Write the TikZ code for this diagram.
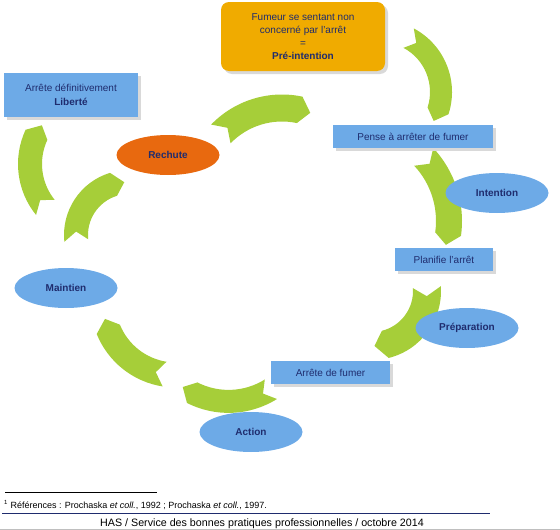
\documentclass[tikz,border=0pt]{standalone}
\usepackage{fontspec}
\setmainfont{Liberation Sans}
\usetikzlibrary{shapes.geometric,shadows}

\definecolor{arrowgreen}{RGB}{166,206,57}
\definecolor{stageblue}{RGB}{109,170,231}
\definecolor{boxorange}{RGB}{240,171,0}
\definecolor{relapse}{RGB}{232,105,15}
\definecolor{textnavy}{RGB}{31,44,110}

\newcommand{\cyclearrow}[6]{%
        \pgfmathsetmacro{\Ro}{#3+#4/2}
        \pgfmathsetmacro{\Ri}{#3-#4/2}
        \pgfmathsetmacro{\Tn}{#5+9/#3*57.3}
        \pgfmathsetmacro{\Hp}{#6+11/#3*57.3}
        \fill[arrowgreen,shift={(#1,#2)}] (#5:\Ro) arc[start angle=#5,end angle=#6,radius=\Ro]
                -- (\Hp:#3) -- (#6:\Ri) arc[start angle=#6,end angle=#5,radius=\Ri]
                -- (\Tn:#3) -- cycle;
}

\tikzset{
        stagebox/.style={rectangle, fill=stageblue, text=textnavy, inner sep=0pt,
                font=\fontsize{10}{12}\selectfont,
                drop shadow={shadow xshift=3pt,shadow yshift=-3pt,fill=black!15,opacity=1}},
        stage/.style={ellipse, fill=stageblue, text=textnavy, inner sep=0pt,
                minimum width=103pt, minimum height=40pt,
                font=\bfseries\fontsize{10}{12}\selectfont},
        prebox/.style={rectangle, rounded corners=8pt, fill=boxorange, text=textnavy,
                align=center, inner sep=0pt, minimum width=164pt, minimum height=69pt,
                font=\fontsize{10}{13}\selectfont,
                drop shadow={shadow xshift=3pt,shadow yshift=-3pt,fill=black!15,opacity=1}}
}

\begin{document}
\begin{tikzpicture}[x=1pt,y=-1pt]
        \useasboundingbox (0,0) rectangle (560,530);

        \cyclearrow{380}{92}{61}{22}{-62}{18};
        \cyclearrow{355}{221}{94}{26}{-43}{8};
        \cyclearrow{372}{291}{55}{28}{-4}{76};
        \cyclearrow{228.5}{321.4}{80}{23}{58}{117};
        \cyclearrow{176}{302}{73}{25}{99}{158};
        \cyclearrow{129}{235}{53}{24}{174}{253};
        \cyclearrow{282}{193}{85}{27}{224}{282};
        \cyclearrow{99}{164}{69}{24}{141}{205};

        \node[prebox] (pre) at (303,36.5) {Fumeur se sentant non\\concerné par l'arrêt\\=\\\textbf{Pré-intention}};
        \node[stagebox, minimum width=134pt, minimum height=44pt, align=center] (free) at (71,95) {Arrête définitivement\\[2pt]\textbf{Liberté}};
        \node[stagebox, minimum width=160pt, minimum height=23pt] (think) at (413,136.5) {Pense à arrêter de fumer};
        \node[stagebox, minimum width=98pt, minimum height=23pt] (plan) at (444,259.5) {Planifie l'arrêt};
        \node[stagebox, minimum width=119pt, minimum height=23pt] (quit) at (330.5,372.5) {Arrête de fumer};

        \node[stage, fill=relapse] (relapse) at (168,155) {Rechute};
        \node[stage] (intention) at (497,193) {Intention};
        \node[stage] (prep) at (467,328) {Préparation};
        \node[stage] (action) at (251,432) {Action};
        \node[stage] (keep) at (66,288) {Maintien};

        \draw[line width=0.6pt] (5,492) -- (157,492);
        \node[anchor=base west, inner sep=0pt, font=\fontsize{9}{11}\selectfont] (note) at (4,508)
                {\textsuperscript{1} Références : Prochaska \textit{et coll.}, 1992 ; Prochaska \textit{et coll.}, 1997.};
        \draw[textnavy, line width=0.8pt] (2,513) -- (490,513);
        \node[anchor=base, inner sep=0pt, font=\fontsize{10.7}{12}\selectfont] (footer) at (262,526)
                {HAS / Service des bonnes pratiques professionnelles / octobre 2014};
        \draw[black!25, line width=1pt] (0,529.5) -- (560,529.5);
\end{tikzpicture}
\end{document}
